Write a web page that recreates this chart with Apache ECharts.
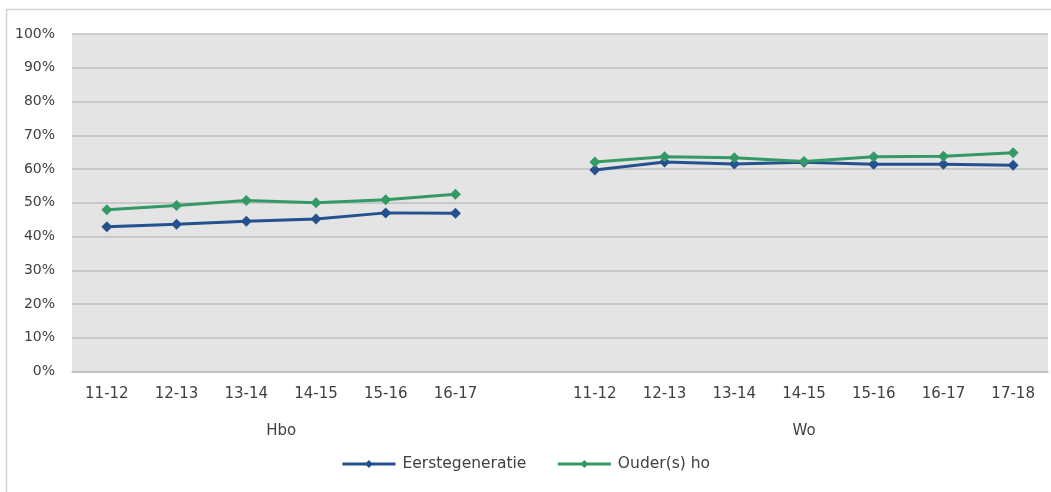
<!DOCTYPE html>
<html><head><meta charset="utf-8">
<script src="https://cdn.jsdelivr.net/npm/echarts@6/dist/echarts.min.js"></script>
<style>html,body{margin:0;padding:0;background:#fff}#c{width:1051px;height:492px}</style>
</head><body><div id="c"></div>
<script>
const categories = ['11-12','12-13','13-14','14-15','15-16','16-17','','11-12','12-13','13-14','14-15','15-16','16-17','17-18'];
const groups = [{name:'Hbo', center:3}, {name:'Wo', center:10.5}];
const eerste = [42.9,43.6,44.5,45.2,47.0,46.9,null,59.7,62.1,61.5,62.0,61.4,61.4,61.1];
const ouder  = [47.9,49.2,50.7,50.0,50.9,52.5,null,62.1,63.6,63.3,62.2,63.6,63.8,64.8];
const yTicks = [0,10,20,30,40,50,60,70,80,90,100];
const seriesNames = ['Eerstegeneratie','Ouder(s) ho'];
const colors = ['#25528F','#339A66'];
const font = 'DejaVu Sans';
const chart = echarts.init(document.getElementById('c'));
chart.setOption({
  animation:false,
  color: colors,
  graphic:[{type:'rect',shape:{x:6.5,y:9.5,width:1100,height:600},style:{fill:'none',stroke:'#D4D4D4',lineWidth:1.5},z:-1}],
  grid:{left:72,top:34,right:0,bottom:120.5,show:true,backgroundColor:'#E4E4E4',borderWidth:0},
  legend:{bottom:15,left:'center',itemWidth:53,itemHeight:10,itemGap:30,
    lineStyle:{width:3},
    textStyle:{fontFamily:font,fontSize:15.5,color:'#404040',padding:[0,0,0,2]},
    data:seriesNames},
  xAxis:[{type:'category',data:categories,boundaryGap:true,
    axisLine:{show:true,lineStyle:{color:'#BFBFBF',width:1.5}},axisTick:{show:false},
    axisLabel:{interval:0,fontFamily:font,fontSize:15,color:'#404040',margin:15},splitLine:{show:false}},
   {type:'value',min:0,max:categories.length,interval:0.5,position:'bottom',gridIndex:0,
    axisLine:{show:false},axisTick:{show:false},splitLine:{show:false},
    axisLabel:{fontFamily:font,fontSize:15,color:'#404040',margin:52,showMinLabel:true,showMaxLabel:true,
      formatter:function(v){const g=groups.find(g=>Math.abs(g.center-v)<1e-6);return g?g.name:'';}}}],
  yAxis:{type:'value',min:0,max:100,interval:10,
    axisLine:{show:false},axisTick:{show:false},
    axisLabel:{formatter:function(v){return yTicks.indexOf(v)>=0? v+'%':'';},fontFamily:font,fontSize:14,color:'#404040',margin:17},
    splitLine:{lineStyle:{color:'#BFBFBF',width:1.5}}},
  series:[
    {name:seriesNames[0],type:'line',data:eerste,symbol:'diamond',symbolSize:11,connectNulls:false,
     lineStyle:{width:3,color:colors[0]},itemStyle:{color:colors[0]}},
    {name:seriesNames[1],type:'line',data:ouder,symbol:'diamond',symbolSize:11,connectNulls:false,
     lineStyle:{width:3,color:colors[1]},itemStyle:{color:colors[1]}}
  ]
});
</script></body></html>
